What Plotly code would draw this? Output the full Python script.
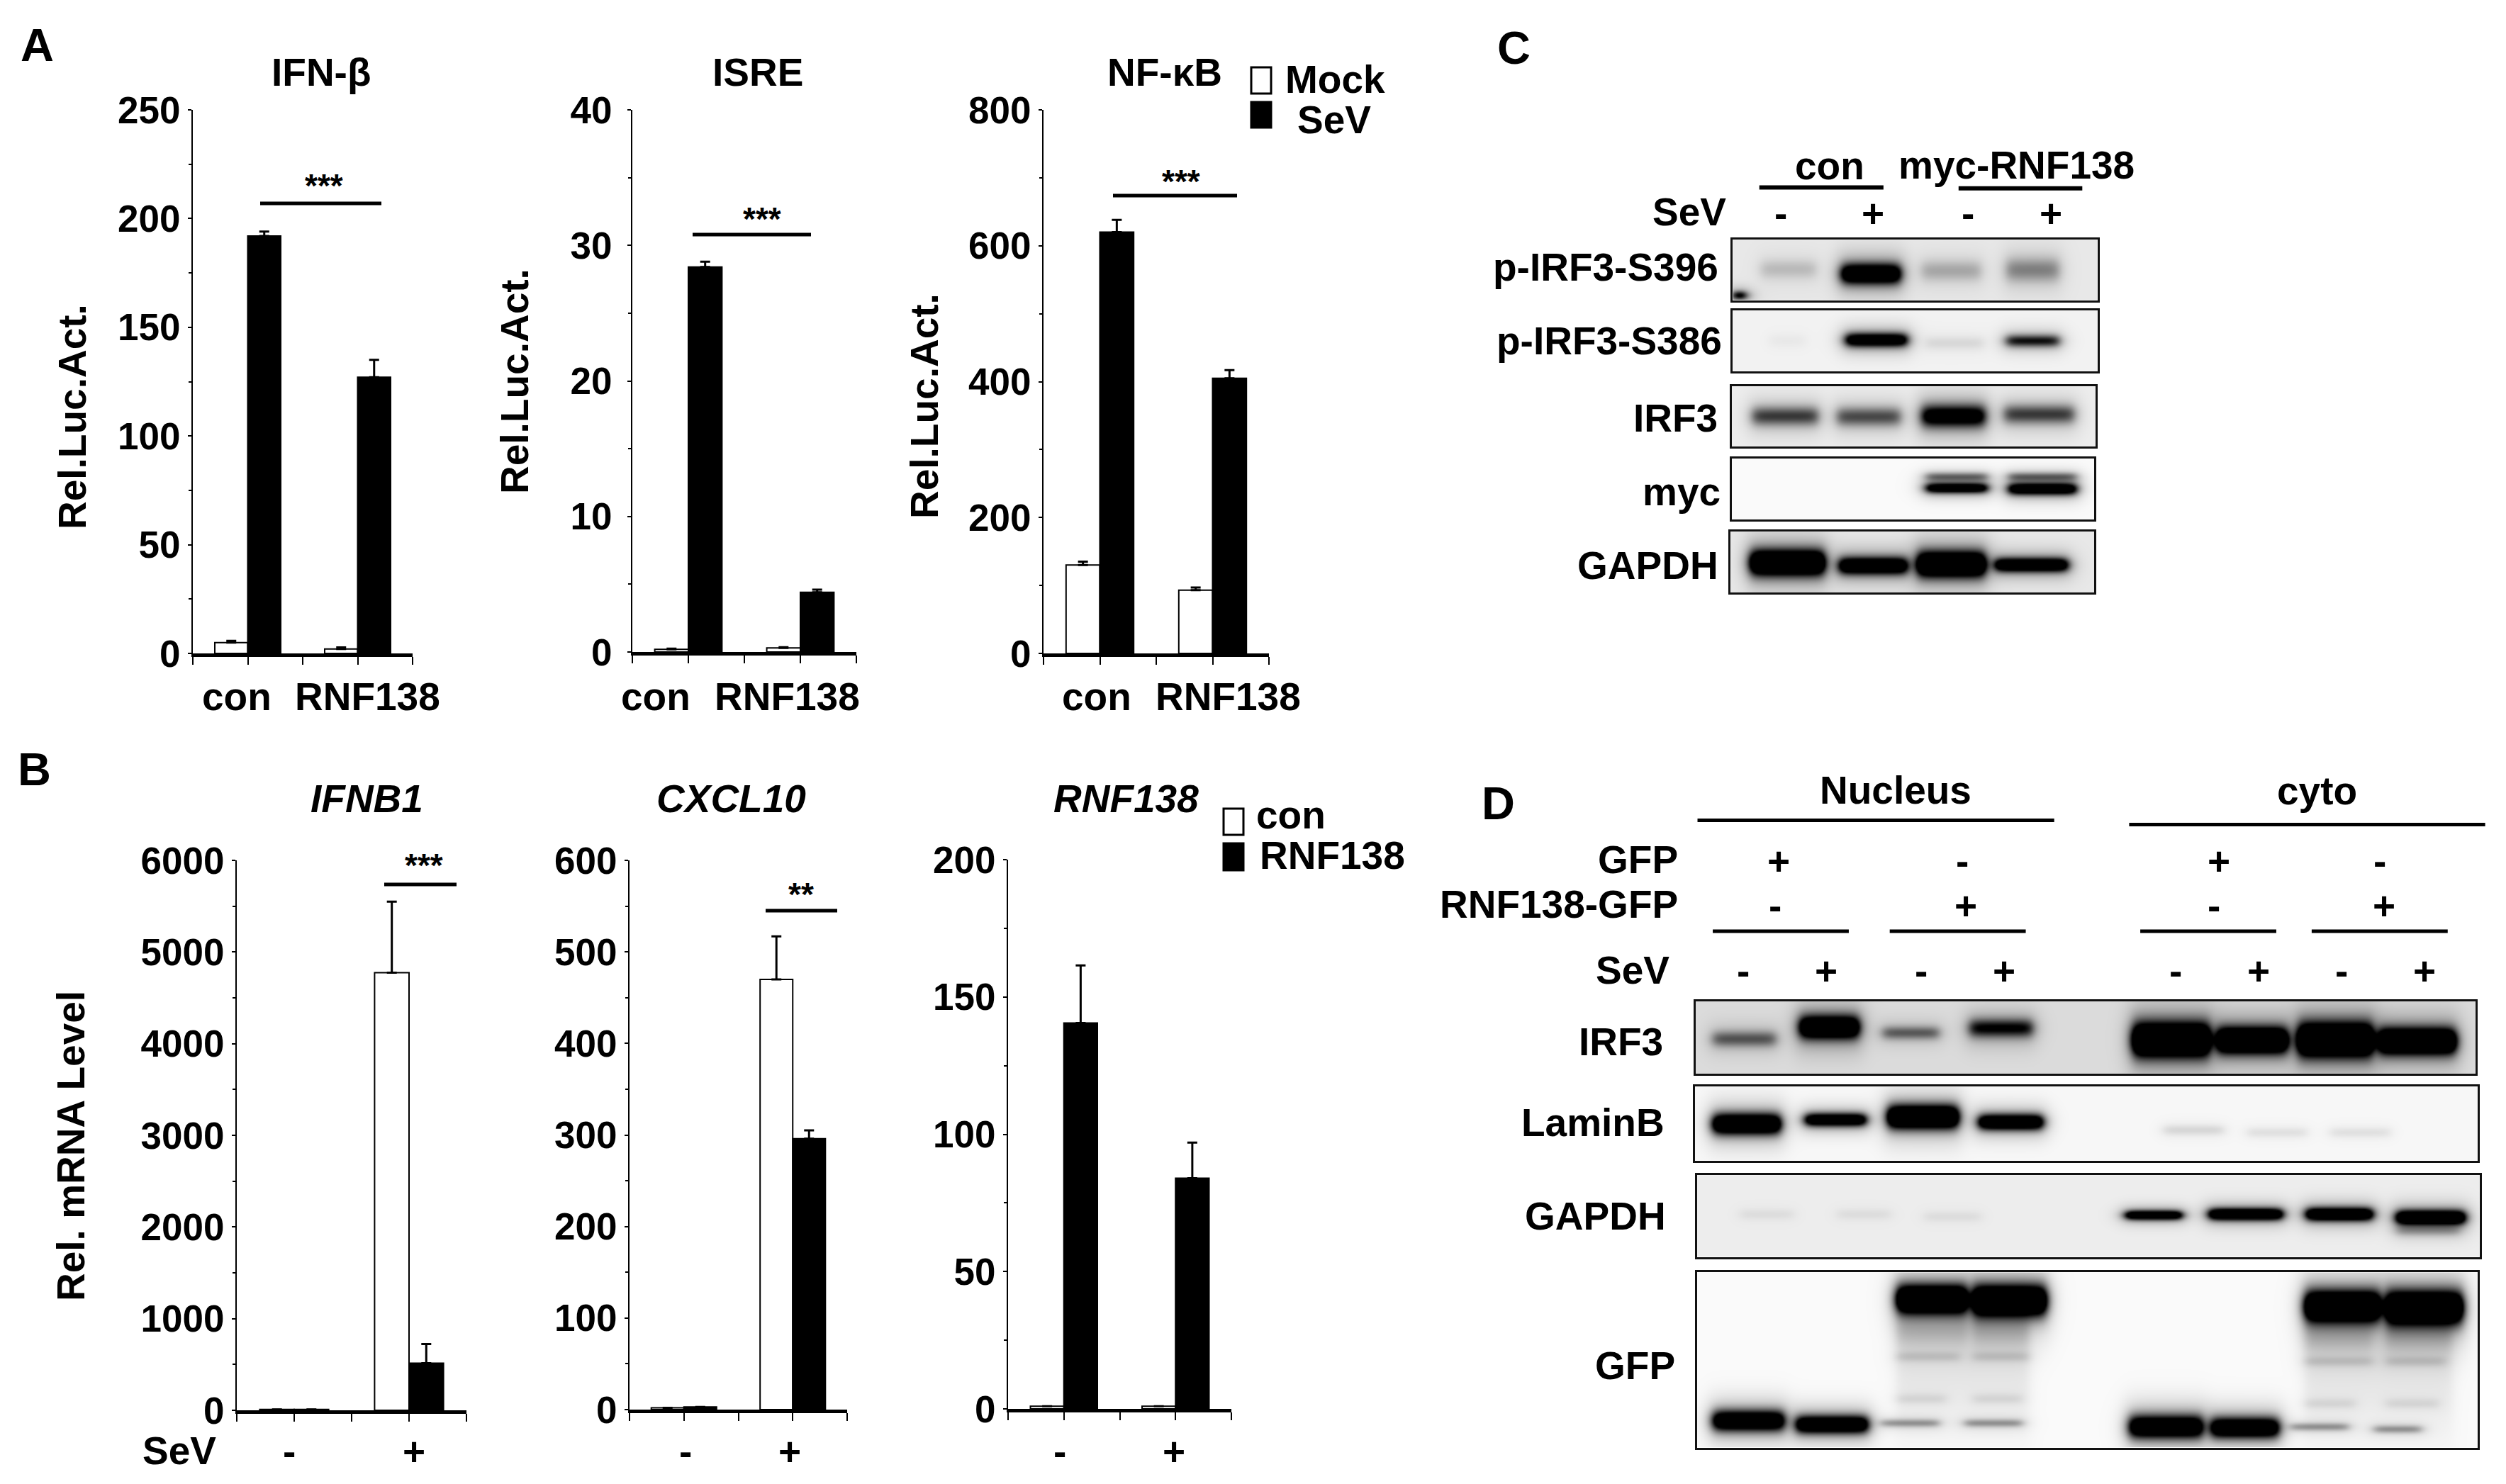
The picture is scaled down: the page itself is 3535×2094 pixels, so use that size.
import numpy as np
import plotly.graph_objects as go

W, H = 3535, 2094
FONT = "Liberation Sans"

# bar values
a1_mock = [5, 2]
a1_mock_err = [0.8, 0.8]
a1_sev = [192, 127]
a1_sev_err = [2, 8]
a2_mock = [0.2, 0.3]
a2_mock_err = [0.05, 0.05]
a2_sev = [28.4, 4.4]
a2_sev_err = [0.4, 0.2]
a3_mock = [130, 93]
a3_mock_err = [5, 4]
a3_sev = [620, 405]
a3_sev_err = [18, 12]

b1_con = [10, 4775]
b1_con_err = [0, 775]
b1_rnf = [10, 514]
b1_rnf_err = [0, 208]
b2_con = [2, 470]
b2_con_err = [0, 47]
b2_rnf = [3, 296]
b2_rnf_err = [0, 9]
b3_con = [1, 1]
b3_con_err = [0, 0]
b3_rnf = [140.5, 84]
b3_rnf_err = [21, 13]

a_labels = ["con", "RNF138"]
sev_signs = ["-", "+"]

# western blot bands: x0, x1, y centre, half height, darkness (in the coordinates of my crops)
c_s396 = [(660, 785, 460, 22, 0.14), (845, 980, 475, 24, 1.2), (1030, 1165, 465, 24, 0.2),
          (1225, 1345, 462, 28, 0.32), (598, 622, 545, 10, 1.0)]
c_s386 = [(680, 760, 692, 16, 0.03), (855, 995, 690, 16, 1.1), (1040, 1170, 700, 16, 0.08),
          (1225, 1345, 693, 14, 0.7)]
c_irf3 = [(640, 790, 938, 22, 0.55), (835, 980, 940, 22, 0.5), (1030, 1175, 938, 26, 0.95),
          (1220, 1380, 932, 22, 0.55)]
c_myc = [(1040, 1180, 1135, 10, 0.4), (1040, 1180, 1172, 12, 1.05),
         (1230, 1385, 1135, 10, 0.4), (1230, 1385, 1175, 14, 1.15)]
c_gapdh = [(635, 805, 1415, 30, 1.5), (840, 995, 1425, 20, 1.2), (1020, 1175, 1420, 30, 1.5),
           (1200, 1365, 1422, 16, 1.2)]

d_irf3 = [(425, 515, 615, 12, 0.42), (550, 635, 590, 18, 1.25), (670, 750, 602, 10, 0.4),
          (795, 885, 592, 14, 0.7), (1030, 1140, 617, 26, 1.6), (1152, 1252, 618, 20, 1.5),
          (1268, 1375, 617, 26, 1.6), (1385, 1495, 620, 20, 1.5)]
d_lamin = [(425, 522, 797, 16, 1.4), (558, 645, 788, 10, 1.2), (677, 778, 782, 18, 1.6),
           (808, 900, 793, 12, 1.3), (1075, 1160, 810, 8, 0.1), (1195, 1280, 815, 8, 0.07),
           (1315, 1400, 815, 8, 0.07)]
d_gapdh = [(1020, 1100, 992, 7, 1.2), (1140, 1245, 990, 9, 1.3), (1280, 1375, 990, 10, 1.3),
           (1410, 1508, 997, 11, 1.4), (1410, 1500, 1025, 8, 0.2), (465, 540, 990, 8, 0.05),
           (605, 680, 990, 8, 0.05), (730, 810, 995, 8, 0.05)]
d_gfp = [(690, 790, 1172, 22, 1.6), (800, 905, 1175, 24, 1.6), (1278, 1385, 1187, 24, 1.6),
         (1395, 1505, 1190, 26, 1.6), (690, 790, 1240, 26, 0.12), (800, 880, 1240, 26, 0.12),
         (1278, 1375, 1250, 26, 0.12), (1395, 1490, 1250, 26, 0.12), (690, 780, 1295, 8, 0.1),
         (800, 880, 1295, 8, 0.1), (1278, 1375, 1305, 8, 0.1), (1395, 1480, 1305, 8, 0.1),
         (690, 760, 1385, 8, 0.07), (800, 870, 1385, 8, 0.07), (1278, 1350, 1395, 8, 0.07),
         (1395, 1470, 1395, 8, 0.07), (690, 880, 1310, 90, 0.06), (1278, 1490, 1320, 90, 0.06),
         (425, 527, 1432, 16, 1.25), (545, 648, 1440, 14, 1.25),
         (1025, 1130, 1445, 18, 1.25), (1143, 1240, 1447, 16, 1.25), (668, 750, 1437, 6, 0.3),
         (788, 870, 1437, 6, 0.3), (1258, 1340, 1445, 6, 0.3), (1378, 1445, 1450, 6, 0.3)]


def cx(z):
    return 2080 + z / 1.633


def cy(z):
    return 180 + z / 2.306


def dx(z):
    return 2000 + z / 1.0215


def dy(z):
    return 1060 + z / 1.5164


fig = go.Figure()
axis_no = 0


def bar_chart(left, right, top, bottom, ymax, dtick, white, white_err, black, black_err, standoff=0):
    global axis_no
    axis_no += 1
    s = "" if axis_no == 1 else str(axis_no)
    for vals, errs, col in [(white, white_err, "white"), (black, black_err, "black")]:
        fig.add_trace(go.Bar(x=[0, 1], y=vals, xaxis="x" + s, yaxis="y" + s, showlegend=False,
                             marker=dict(color=col, line=dict(color="black", width=2)),
                             error_y=dict(type="data", symmetric=False, array=errs, arrayminus=[0, 0],
                                          color="black", thickness=3, width=7)))
    fig.update_layout(**{
        "xaxis" + s: dict(domain=[left / W, right / W], range=[-0.5, 1.5], anchor="y" + s, automargin=False,
                          tickvals=[-0.5, 0, 0.5, 1, 1.5], showticklabels=False, ticks="outside",
                          ticklen=11, tickwidth=2, tickcolor="black", showline=True, linecolor="black",
                          linewidth=5, showgrid=False, zeroline=False),
        "yaxis" + s: dict(domain=[1 - bottom / H, 1 - top / H], range=[0, ymax], anchor="x" + s, automargin=False,
                          dtick=dtick, ticks="outside", ticklen=5, tickwidth=2, tickcolor="black",
                          minor=dict(dtick=dtick / 2, ticks="outside", ticklen=4, tickwidth=2,
                                     tickcolor="black", showgrid=False),
                          ticklabelstandoff=standoff,
                          showline=True, linecolor="black", linewidth=2, showgrid=False, zeroline=False,
                          tickfont=dict(family=FONT, size=53, color="black", weight="bold")),
    })


def blot(box, bg, bands, fx, fy):
    global axis_no
    axis_no += 1
    s = str(axis_no)
    x0, x1, y0, y1 = fx(box[0]), fx(box[1]), fy(box[2]), fy(box[3])
    xs = np.arange(x0, x1 + 2, 2.0)
    ys = np.arange(y0, y1 + 2, 2.0)
    xx, yy = np.meshgrid(xs, ys)
    z = np.full(xx.shape, float(bg))
    # band darkness is spread with a soft core and a wider halo so the film looks blurred like the photo
    for b in bands:
        bx0, bx1, yc, h = fx(b[0]), fx(b[1]), fy(b[2]), 1.35 * b[3] * (fy(1) - fy(0))
        core = 0.5 * (np.tanh((xx - bx0) / 8) - np.tanh((xx - bx1) / 8))
        halo = 0.5 * (np.tanh((xx - bx0 + 6) / 14) - np.tanh((xx - bx1 - 6) / 14))
        z += b[4] * core * np.exp(-((yy - yc) / h) ** 2)
        z += 0.3 * min(b[4], 1) * halo * np.exp(-((yy - yc) / (2.2 * h)) ** 2)
    z = np.clip(z, 0, 1)
    fig.add_trace(go.Heatmap(x=xs, y=ys, z=z, xaxis="x" + s, yaxis="y" + s, zmin=0, zmax=1, zsmooth="best",
                             colorscale=[[0, "white"], [1, "black"]], showscale=False, hoverinfo="skip"))
    fig.update_layout(**{
        "xaxis" + s: dict(domain=[x0 / W, x1 / W], range=[x0, x1], anchor="y" + s, showticklabels=False,
                          automargin=False, ticks="", showgrid=False, zeroline=False, showline=True, mirror=True,
                          linecolor="#111111", linewidth=3),
        "yaxis" + s: dict(domain=[1 - y1 / H, 1 - y0 / H], range=[y1, y0], anchor="x" + s, showticklabels=False,
                          automargin=False, ticks="", showgrid=False, zeroline=False, showline=True, mirror=True,
                          linecolor="#111111", linewidth=3),
    })


def txt(s, x, y, size=55, anchor="center", italic=False, angle=0, family=FONT):
    fig.add_annotation(text=s, x=x / W, y=1 - y / H, xref="paper", yref="paper", xanchor=anchor,
                       yanchor="middle", showarrow=False, textangle=angle,
                       font=dict(family=family, size=size, color="black", weight="bold",
                                 style="italic" if italic else "normal"))


def line(x0, x1, y, width=5):
    fig.add_shape(type="line", xref="paper", yref="paper", x0=x0 / W, x1=x1 / W, y0=1 - y / H, y1=1 - y / H,
                  line=dict(color="black", width=width))


def swatch(x0, x1, y0, y1, col):
    fig.add_shape(type="rect", xref="paper", yref="paper", x0=x0 / W, x1=x1 / W, y0=1 - y1 / H, y1=1 - y0 / H,
                  fillcolor=col, line=dict(color="black", width=3))


# panel A
bar_chart(272, 582, 155, 922, 250, 50, a1_mock, a1_mock_err, a1_sev, a1_sev_err)
bar_chart(892, 1208, 155, 920, 40, 10, a2_mock, a2_mock_err, a2_sev, a2_sev_err, standoff=11)
bar_chart(1472, 1790, 155, 922, 800, 200, a3_mock, a3_mock_err, a3_sev, a3_sev_err)
# panel B
bar_chart(334, 658, 1214, 1990, 6000, 1000, b1_con, b1_con_err, b1_rnf, b1_rnf_err)
bar_chart(888, 1195, 1214, 1989, 600, 100, b2_con, b2_con_err, b2_rnf, b2_rnf_err)
bar_chart(1422, 1737, 1213, 1988, 200, 50, b3_con, b3_con_err, b3_rnf, b3_rnf_err)

# panel C blots
blot((595, 1435, 365, 562), 0.09, c_s396, cx, cy)
blot((595, 1436, 596, 793), 0.05, c_s386, cx, cy)
blot((592, 1431, 842, 1037), 0.07, c_irf3, cx, cy)
blot((592, 1428, 1077, 1276), 0.02, c_myc, cx, cy)
blot((590, 1428, 1315, 1513), 0.09, c_gapdh, cx, cy)
# panel D blots
blot((400, 1524, 535, 690), 0.14, d_irf3, dx, dy)
blot((399, 1527, 718, 876), 0.03, d_lamin, dx, dy)
blot((402, 1530, 907, 1082), 0.07, d_gapdh, dx, dy)
blot((402, 1527, 1115, 1490), 0.02, d_gfp, dx, dy)

# panel letters
txt("A", 52, 63, 65)
txt("B", 48, 1085, 65)
txt("C", 2135, 68, 65)
txt("D", 2113, 1133, 65)

# panel A text
txt("IFN-β", 453, 102)
txt("ISRE", 1069, 102)
txt("NF-κB", 1643, 102)
for x, y in [(102, 588), (726, 538), (1304, 573)]:
    txt("Rel.Luc.Act.", x, y, 55, angle=-90)
for xc, xr in [(334, 518), (925, 1110), (1547, 1732)]:
    txt(a_labels[0], xc, 983)
    txt(a_labels[1], xr, 983)
line(367, 538, 287)
txt("***", 457, 262, 46)
line(977, 1144, 331)
txt("***", 1075, 309, 46)
line(1570, 1745, 276)
txt("***", 1666, 256, 46)
swatch(1765, 1793, 95, 132, "white")
swatch(1765, 1793, 144, 180, "black")
txt("Mock", 1811, 112, anchor="left")
txt("SeV", 1828, 169, anchor="left")

# panel B text
txt("IFNB1", 517, 1127, italic=True)
txt("CXCL10", 1031, 1127, italic=True)
txt("RNF138", 1588, 1127, italic=True)
txt("Rel. mRNA Level", 100, 1617, 55, angle=-90)
line(542, 644, 1248)
txt("***", 598, 1221, 46)
line(1080, 1181, 1285)
txt("**", 1130, 1262, 46)
swatch(1726, 1754, 1141, 1178, "white")
swatch(1726, 1754, 1190, 1228, "black")
txt("con", 1770, 1150, anchor="left")
txt("RNF138", 1775, 1207, anchor="left")
txt("SeV", 253, 2047)
for xm, xp in [(408, 584), (967, 1114), (1495, 1656)]:
    txt(sev_signs[0], xm, 2048)
    txt(sev_signs[1], xp, 2048)

# panel C text
txt("con", cx(818), cy(128) - 2)
txt("myc-RNF138", cx(1248), cy(122))
line(cx(656), cx(942), cy(195), 6)
line(cx(1115), cx(1400), cy(198), 6)
txt("SeV", cx(583), cy(275), anchor="right")
for zx, sign in zip([705, 918, 1137, 1328], sev_signs * 2):
    txt(sign, cx(zx), cy(278))
for label, zx, zy in [("p-IRF3-S396", 562, 455), ("p-IRF3-S386", 570, 695), ("IRF3", 560, 945),
                      ("myc", 567, 1185), ("GAPDH", 562, 1425)]:
    txt(label, cx(zx) + 2, cy(zy), anchor="right")

# panel D text
txt("Nucleus", dx(688), dy(83))
txt("cyto", dx(1296), dy(85))
line(dx(403), dx(917), dy(148))
line(dx(1025), dx(1538), dy(157))
txt("GFP", dx(377), dy(232), anchor="right")
txt("RNF138-GFP", dx(377), dy(327), anchor="right")
for zx, sign in zip([520, 785, 1154, 1386], ["+", "-", "+", "-"]):
    txt(sign, dx(zx), dy(235))
for zx, sign in zip([515, 790, 1147, 1392], ["-", "+", "-", "+"]):
    txt(sign, dx(zx), dy(330))
for x0, x1 in [(425, 621), (680, 876), (1041, 1237), (1288, 1484)]:
    line(dx(x0), dx(x1), dy(385))
txt("SeV", dx(365), dy(468), anchor="right")
for zx, sign in zip([469, 588, 725, 845, 1092, 1211, 1331, 1451], sev_signs * 4):
    txt(sign, dx(zx), dy(470))
for label, zx, zy in [("IRF3", 355, 622), ("LaminB", 358, 795), ("GAPDH", 360, 995), ("GFP", 373, 1315)]:
    txt(label, dx(zx), dy(zy), anchor="right")

fig.update_layout(width=W, height=H, margin=dict(l=0, r=0, t=0, b=0), paper_bgcolor="white",
                  plot_bgcolor="white", barmode="group", bargap=0.4, bargroupgap=0, showlegend=False)

fig.write_html("out.html", config={"displayModeBar": False}, post_script="document.body.style.margin='0';")
